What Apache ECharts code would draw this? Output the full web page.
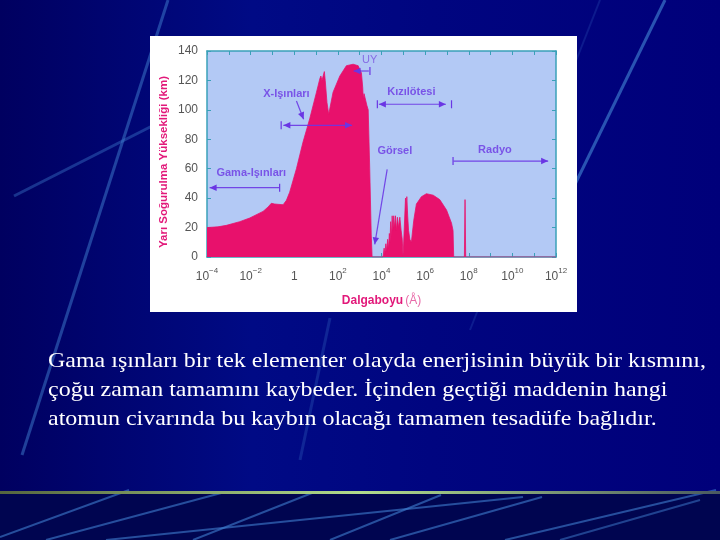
<!DOCTYPE html>
<html>
<head>
<meta charset="utf-8">
<script src="https://cdn.jsdelivr.net/npm/echarts@6/dist/echarts.min.js"></script>
<style>html,body{margin:0;padding:0;background:#000070;}#c{width:720px;height:540px;}</style>
</head>
<body>
<div id="c"></div>
<script>
// ---- data (x = log10 of wavelength in Å, y = half-absorption altitude in km) ----
var waveExp = [-4, -3.5, -3.11, -2.5, -2.04, -1.43, -1.2, -1.05, -0.9, -0.51, -0.36, -0.21, 0.1, 0.4, 0.71, 1.02, 1.17, 1.22, 1.27, 1.33, 1.38, 1.42, 1.5, 1.58, 1.7, 1.78, 2.09, 2.39, 2.7, 2.93, 3.08, 3.14, 3.16, 3.2, 3.28, 3.33, 3.39, 3.46, 3.53, 3.57,
  4.07, 4.12, 4.15, 4.2, 4.24, 4.28, 4.32, 4.36, 4.39, 4.42, 4.45, 4.49, 4.52, 4.56, 4.6, 4.64, 4.68, 4.73, 4.78, 4.84, 4.9, 4.95, 4.99,
  5.08, 5.1, 5.13, 5.16, 5.2, 5.24, 5.3, 5.37, 5.42, 5.48, 5.6, 5.83, 6.06, 6.37, 6.67, 6.98, 7.21, 7.28, 7.31,
  7.8, 7.83, 7.86, 12];
var heightKm = [20, 20.5, 21.5, 24, 26.5, 31, 34, 36.5, 36, 35.5, 38.5, 44, 60, 78, 94, 112, 121, 123, 120, 121, 126, 120, 105, 97, 106, 112, 123, 130, 131, 130, 125, 115, 108, 111, 110, 103, 100, 60, 15, 0,
  0, 6, 2, 9, 4, 12, 6, 16, 10, 24, 14, 28, 18, 28, 20, 28, 18, 27, 20, 27, 18, 12, 0,
  0, 40, 30, 41, 28, 18, 12, 10, 17, 25, 36, 41, 43, 42, 39, 32, 23, 18, 0,
  0, 39, 0, 0];
var xTickExp = [-4, -2, 0, 2, 4, 6, 8, 10, 12];
var yTicks = [0, 20, 40, 60, 80, 100, 120, 140];

// ---- annotations (band names) ----
var bandNames = ['X-Işınları', 'UY', 'Kızılötesi', 'Görsel', 'Radyo', 'Gama-Işınları'];
var bandLabelX = [-0.36, 3.46, 5.37, 4.61, 9.2, -1.97];
var bandLabelY = [111, 134, 112, 72, 72.7, 57];
// arrows: [x1, y1, x2, y2, arrowAtStart, arrowAtEnd]
var bandArrows = [
  [-0.5, 89.5, 2.65, 89.5, 1, 1],
  [0.1, 106, 0.43, 93.6, 0, 1],
  [2.72, 126.4, 3.42, 126.4, 1, 0],
  [3.88, 103.8, 6.95, 103.8, 1, 1],
  [4.26, 59.6, 3.69, 8.6, 0, 1],
  [7.3, 65.2, 11.64, 65.2, 0, 1],
  [-3.88, 47.1, -0.67, 47.1, 1, 0]
];
// end bars: [x, y]
var bandBars = [[-0.6, 89.5], [3.47, 126.4], [3.81, 103.8], [7.21, 103.8], [7.28, 65.2], [-0.67, 47.1]];

var paragraph = [
  'Gama ışınları bir tek elementer olayda enerjisinin büyük bir kısmını,',
  'çoğu zaman tamamını kaybeder. İçinden geçtiği maddenin hangi',
  'atomun civarında bu kaybın olacağı tamamen tesadüfe bağlıdır.'
];

var chart = echarts.init(document.getElementById('c'), null, {renderer: 'canvas'});

function expLabel(v) {
  if (v === 0) return '{b|1}';
  return '{b|10}{s|' + (v < 0 ? '−' : '') + Math.abs(v) + '}';
}

var purple = '#6a36e4';
var sans = '"Liberation Sans", Arial, sans-serif';

function head(tip, from) {
  var dx = tip[0] - from[0], dy = tip[1] - from[1];
  var L = Math.sqrt(dx * dx + dy * dy) || 1;
  var ux = dx / L, uy = dy / L, len = 7, hw = 3.2;
  var bx = tip[0] - ux * len, by = tip[1] - uy * len;
  return {type: 'polygon', shape: {points: [tip, [bx - uy * hw, by + ux * hw], [bx + uy * hw, by - ux * hw]]},
    style: {fill: purple}};
}
function renderArrow(params, api) {
  var p1 = api.coord([api.value(0), api.value(1)]);
  var p2 = api.coord([api.value(2), api.value(3)]);
  var kids = [{type: 'line', shape: {x1: p1[0], y1: p1[1], x2: p2[0], y2: p2[1]},
    style: {stroke: purple, lineWidth: 1.2, opacity: 0.9}}];
  if (api.value(4)) kids.push(head(p1, p2));
  if (api.value(5)) kids.push(head(p2, p1));
  return {type: 'group', children: kids};
}
function renderBar(params, api) {
  var p = api.coord([api.value(0), api.value(1)]);
  return {type: 'line', shape: {x1: p[0], y1: p[1] - 4, x2: p[0], y2: p[1] + 4},
    style: {stroke: purple, lineWidth: 1.2}};
}

function streak(x1, y1, x2, y2, w, op) {
  return {type: 'line', z: -9, silent: true,
    shape: {x1: x1, y1: y1, x2: x2, y2: y2},
    style: {stroke: '#3f7fd0', lineWidth: w, opacity: op}};
}

var axisCol = '#3aa0b8';
var option = {
  backgroundColor: '#000070',
  animation: false,
  graphic: [
    {type: 'rect', z: -10, silent: true, shape: {x: 0, y: 0, width: 720, height: 492},
      style: {fill: new echarts.graphic.LinearGradient(0, 0, 1, 0, [
        {offset: 0, color: '#000060'}, {offset: 0.35, color: '#000a85'}, {offset: 0.6, color: '#000580'}, {offset: 1, color: '#00007a'}])}},
    {type: 'rect', z: -10, silent: true, shape: {x: 0, y: 492, width: 720, height: 48}, style: {fill: '#000550'}},
    streak(168, 0, 22, 455, 3, 0.5),
    streak(14, 196, 160, 122, 3, 0.4),
    streak(665, 0, 560, 215, 3, 0.65),
    streak(600, 0, 470, 330, 2, 0.2),
    streak(330, 318, 300, 460, 3, 0.25),
    streak(0, 537, 129, 490, 2, 0.6),
    streak(46, 540, 225, 492, 2, 0.6),
    streak(106, 540, 523, 497, 2, 0.6),
    streak(193, 540, 312, 493, 2, 0.6),
    streak(330, 540, 441, 495, 2, 0.6),
    streak(390, 540, 542, 497, 2, 0.6),
    streak(505, 540, 716, 490, 2, 0.6),
    streak(560, 540, 700, 500, 2, 0.5),
    {type: 'rect', z: -8, silent: true, shape: {x: 0, y: 491, width: 720, height: 3},
      style: {fill: new echarts.graphic.LinearGradient(0, 0, 1, 0, [
        {offset: 0, color: '#55663f'}, {offset: 0.5, color: '#b2dc8c'}, {offset: 1, color: '#4a5a60'}])}},
    {type: 'rect', z: -7, silent: true, shape: {x: 150, y: 36, width: 427, height: 276}, style: {fill: '#ffffff'}},
    {type: 'text', z: 5, silent: true, x: 48, y: 347, scaleX: 1.142,
      style: {text: paragraph.join('\n'), fill: '#ffffff', font: '21px "Liberation Serif"', lineHeight: 29}}
  ],
  grid: {left: 207, right: 164, top: 51, bottom: 283, show: true, backgroundColor: '#b3c9f5', borderWidth: 0},
  xAxis: [{
    type: 'value', min: -4, max: 12, interval: 2, position: 'bottom',
    name: '{n|Dalgaboyu}{u|(Å)}', nameLocation: 'middle', nameGap: 38,
    nameTextStyle: {rich: {
      n: {fontFamily: sans, fontWeight: 'bold', fontSize: 12, color: '#e2197a'},
      u: {fontFamily: sans, fontSize: 12, color: '#e86aa8', padding: [0, 0, 0, 2]}}},
    axisLine: {show: true, onZero: false, lineStyle: {color: axisCol, width: 1.5}},
    axisTick: {show: true, inside: true, length: 4, lineStyle: {color: axisCol}},
    minorTick: {show: true, splitNumber: 2, length: 4, lineStyle: {color: axisCol}},
    splitLine: {show: false},
    axisLabel: {margin: 10, formatter: expLabel, rich: {
      b: {fontFamily: sans, fontSize: 12, color: '#555', lineHeight: 16, verticalAlign: 'bottom'},
      s: {fontFamily: sans, fontSize: 8, color: '#555', lineHeight: 16, verticalAlign: 'top', padding: [0, 0, 6, 0]}}}
  }, {
    type: 'value', min: -4, max: 12, interval: 1, position: 'top',
    axisLine: {show: true, onZero: false, lineStyle: {color: axisCol, width: 1.5}},
    axisTick: {show: true, inside: true, length: 4, lineStyle: {color: axisCol}},
    axisLabel: {show: false}, splitLine: {show: false}
  }],
  yAxis: [{
    type: 'value', min: 0, max: 140, interval: 20, position: 'left',
    name: 'Yarı Soğurulma Yüksekliği (km)', nameLocation: 'middle', nameGap: 37, nameRotate: 90,
    nameTextStyle: {fontFamily: sans, fontWeight: 'bold', fontSize: 11.5, color: '#e2197a', padding: [0, 16, 0, 0]},
    axisLine: {show: true, onZero: false, lineStyle: {color: axisCol, width: 1.5}},
    axisTick: {show: true, inside: true, length: 4, lineStyle: {color: axisCol}},
    splitLine: {show: false},
    axisLabel: {margin: 9, fontFamily: sans, fontSize: 12, color: '#555'}
  }, {
    type: 'value', min: 0, max: 140, interval: 20, position: 'right',
    axisLine: {show: true, onZero: false, lineStyle: {color: axisCol, width: 1.5}},
    axisTick: {show: true, inside: true, length: 4, lineStyle: {color: axisCol}},
    axisLabel: {show: false}, splitLine: {show: false}
  }],
  series: [{
    type: 'line', xAxisIndex: 0, yAxisIndex: 0, symbol: 'none', smooth: false,
    data: waveExp.map(function (x, i) { return [x, heightKm[i]]; }),
    lineStyle: {color: '#e8116c', width: 0.8},
    areaStyle: {color: '#e8116c', opacity: 1},
    z: 2
  }, {
    type: 'custom', xAxisIndex: 0, yAxisIndex: 0, z: 10, silent: true,
    renderItem: renderArrow, data: bandArrows
  }, {
    type: 'custom', xAxisIndex: 0, yAxisIndex: 0, z: 10, silent: true,
    renderItem: renderBar, data: bandBars
  }, {
    type: 'scatter', xAxisIndex: 0, yAxisIndex: 0, symbolSize: 0, z: 11, silent: true,
    data: bandNames.map(function (n, i) {
      var item = {name: n, value: [bandLabelX[i], bandLabelY[i]]};
      if (n === 'UY') item.label = {fontWeight: 'normal', color: '#7a55e0'};
      return item;
    }),
    label: {show: true, position: 'inside', formatter: function (p) { return p.name; },
      fontFamily: sans, fontWeight: 'bold', fontSize: 11, color: purple}
  }]
};
chart.setOption(option);
</script>
</body>
</html>
